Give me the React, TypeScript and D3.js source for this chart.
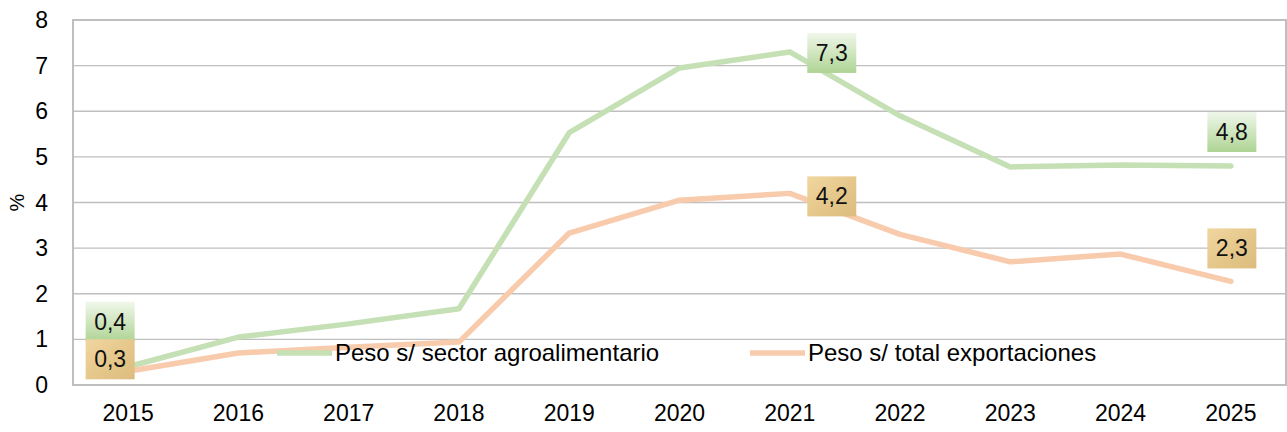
import React, { useEffect, useRef } from 'react';
import * as d3 from 'd3';

const years = ['2015', '2016', '2017', '2018', '2019', '2020', '2021', '2022', '2023', '2024', '2025'];
const agroShare = [0.4, 1.05, 1.34, 1.67, 5.53, 6.95, 7.3, 5.9, 4.78, 4.82, 4.8];
const exportShare = [0.3, 0.7, 0.83, 0.94, 3.33, 4.05, 4.2, 3.3, 2.7, 2.87, 2.27];
const yTicks = [0, 1, 2, 3, 4, 5, 6, 7, 8];
const seriesNames = ['Peso s/ sector agroalimentario', 'Peso s/ total exportaciones'];
// which points get a value label, and where the box sits relative to the point
const agroLabels = [
  { i: 0, dx: -18, dy: -45 },
  { i: 6, dx: 42, dy: 1 },
  { i: 10, dx: 1, dy: -34 },
];
const exportLabels = [
  { i: 0, dx: -18, dy: -12 },
  { i: 6, dx: 42, dy: 3 },
  { i: 10, dx: 1, dy: -33 },
];

export default function App() {
  const svgRef = useRef<SVGSVGElement>(null);

  useEffect(() => {
    const W = 1287, H = 432;
    const left = 73, right = 1286, top = 20, bottom = 385;
    const font = '"Liberation Sans", Arial, sans-serif';

    const root = d3.select(svgRef.current);
    root.selectAll('*').remove();
    const svg = root.attr('width', W).attr('height', H);

    const defs = svg.append('defs');
    const gGreen = defs.append('linearGradient').attr('id', 'lblGreen')
      .attr('x1', 0).attr('y1', 0).attr('x2', 0).attr('y2', 1);
    gGreen.append('stop').attr('offset', '0%').attr('stop-color', '#f0f7ea');
    gGreen.append('stop').attr('offset', '100%').attr('stop-color', '#aed494');
    const gOrange = defs.append('linearGradient').attr('id', 'lblOrange')
      .attr('x1', 0).attr('y1', 0).attr('x2', 1).attr('y2', 1);
    gOrange.append('stop').attr('offset', '0%').attr('stop-color', '#f0d6a0');
    gOrange.append('stop').attr('offset', '50%').attr('stop-color', '#e6c88c');
    gOrange.append('stop').attr('offset', '100%').attr('stop-color', '#dcbc7e');

    const x = d3.scaleBand().domain(years).range([left, right]);
    const cx = (d: string) => (x(d) as number) + x.bandwidth() / 2;
    const y = d3.scaleLinear().domain([0, 8]).range([bottom, top]);

    // gridlines
    svg.append('g')
      .selectAll('line')
      .data(yTicks.filter(t => t > 0 && t < 8))
      .enter()
      .append('line')
      .attr('x1', left).attr('x2', right)
      .attr('y1', d => y(d)).attr('y2', d => y(d))
      .attr('stroke', '#bfbfbf').attr('stroke-width', 1.3);

    // plot border
    svg.append('rect')
      .attr('x', left).attr('y', top)
      .attr('width', right - left).attr('height', bottom - top)
      .attr('fill', 'none').attr('stroke', '#bfbfbf').attr('stroke-width', 2);

    // y tick labels
    svg.append('g')
      .selectAll('text')
      .data(yTicks)
      .enter()
      .append('text')
      .attr('x', 48).attr('y', d => y(d))
      .attr('dy', '0.35em')
      .attr('text-anchor', 'end')
      .attr('font-family', font).attr('font-size', 23).attr('fill', '#000')
      .text(d => d);

    // y axis title
    svg.append('text')
      .attr('transform', `translate(24,${y(4)}) rotate(-90)`)
      .attr('text-anchor', 'middle')
      .attr('font-family', font).attr('font-size', 20).attr('fill', '#000')
      .text('%');

    // x tick labels
    svg.append('g')
      .selectAll('text')
      .data(years)
      .enter()
      .append('text')
      .attr('x', d => cx(d)).attr('y', 413)
      .attr('dy', '0.35em')
      .attr('text-anchor', 'middle')
      .attr('font-family', font).attr('font-size', 23).attr('fill', '#000')
      .text(d => d);

    const line = d3.line<number>()
      .x((_, i) => cx(years[i]))
      .y(d => y(d));

    const series = [
      { values: agroShare, color: '#c5e0b4', labels: agroLabels, fill: 'url(#lblGreen)' },
      { values: exportShare, color: '#f8cbad', labels: exportLabels, fill: 'url(#lblOrange)' },
    ];

    series.forEach(s => {
      svg.append('path')
        .datum(s.values)
        .attr('d', line)
        .attr('fill', 'none')
        .attr('stroke', s.color)
        .attr('stroke-width', 5.5)
        .attr('stroke-linejoin', 'round')
        .attr('stroke-linecap', 'round');
    });

    // legend
    const legendX = [277, 750];
    series.forEach((s, k) => {
      svg.append('line')
        .attr('x1', legendX[k]).attr('x2', legendX[k] + 55)
        .attr('y1', 353).attr('y2', 353)
        .attr('stroke', s.color).attr('stroke-width', 5.5);
      svg.append('text')
        .attr('x', legendX[k] + 58).attr('y', 353)
        .attr('dy', '0.35em')
        .attr('font-family', font).attr('font-size', 24).attr('fill', '#000')
        .text(seriesNames[k]);
    });

    // value labels
    const bw = 49, bh = 40;
    series.forEach(s => {
      s.labels.forEach(l => {
        const px = cx(years[l.i]) + l.dx;
        const py = y(s.values[l.i]) + l.dy;
        svg.append('rect')
          .attr('x', px - bw / 2).attr('y', py - bh / 2)
          .attr('width', bw).attr('height', bh)
          .attr('fill', s.fill);
        svg.append('text')
          .attr('x', px).attr('y', py)
          .attr('dy', '0.35em')
          .attr('text-anchor', 'middle')
          .attr('font-family', font).attr('font-size', 23).attr('fill', '#111')
          .text(d3.format('.1f')(s.values[l.i]).replace('.', ','));
      });
    });
  }, []);

  return <svg ref={svgRef} style={{ position: 'absolute', left: 0, top: 0, background: '#fff' }} />;
}
